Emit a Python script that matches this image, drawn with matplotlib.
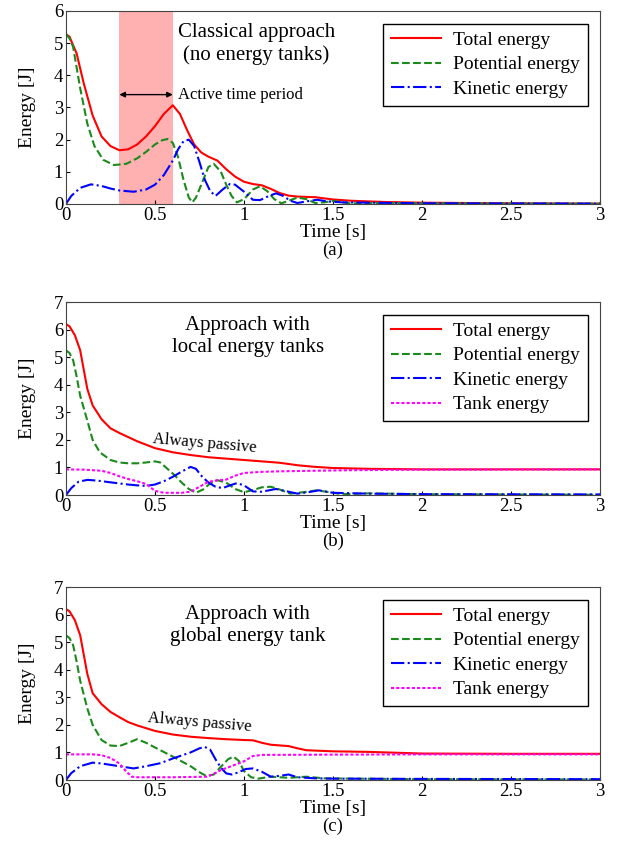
import numpy as np
import matplotlib
matplotlib.use('Agg')
import matplotlib.pyplot as plt

plt.rcParams['font.family'] = ['Liberation Serif', 'DejaVu Serif']
plt.rcParams['font.size'] = 13

# ---- panel (a): classical approach ----
t_a_tot = [0, 0.02, 0.06, 0.1, 0.15, 0.2, 0.25, 0.3, 0.35, 0.4, 0.45, 0.5, 0.55, 0.6, 0.64, 0.68,
           0.72, 0.76, 0.8, 0.85, 0.9, 0.95, 1.0, 1.05, 1.1, 1.15, 1.2, 1.25, 1.3, 1.4, 1.5, 1.6,
           1.8, 2.0, 2.5, 3.0]
e_a_tot = [5.28, 5.2, 4.68, 3.75, 2.75, 2.1, 1.8, 1.67, 1.7, 1.85, 2.1, 2.42, 2.8, 3.07, 2.8, 2.3,
           1.85, 1.6, 1.47, 1.35, 1.08, 0.85, 0.69, 0.62, 0.58, 0.47, 0.34, 0.26, 0.23, 0.21, 0.14,
           0.1, 0.06, 0.04, 0.02, 0.01]
t_a_pot = [0, 0.02, 0.04, 0.08, 0.12, 0.16, 0.21, 0.27, 0.34, 0.4, 0.45, 0.5, 0.54, 0.57, 0.6,
           0.63, 0.66, 0.69, 0.71, 0.73, 0.76, 0.8, 0.83, 0.87, 0.9, 0.93, 0.96, 1.0, 1.05, 1.09,
           1.13, 1.17, 1.21, 1.25, 1.3, 1.35, 1.4, 1.45, 1.5, 1.55, 1.6, 1.8, 2.0, 3.0]
e_a_pot = [5.28, 5.15, 4.89, 3.6, 2.5, 1.8, 1.37, 1.21, 1.25, 1.42, 1.62, 1.85, 1.98, 2.02, 1.9,
           1.45, 0.75, 0.2, 0.05, 0.2, 0.6, 1.15, 1.25, 1.0, 0.6, 0.25, 0.05, 0.15, 0.45, 0.55,
           0.4, 0.15, 0.02, 0.1, 0.2, 0.15, 0.03, 0.05, 0.1, 0.05, 0.02, 0.03, 0.02, 0.01]
t_a_kin = [0, 0.03, 0.08, 0.14, 0.2, 0.25, 0.3, 0.38, 0.45, 0.5, 0.55, 0.6, 0.63, 0.66, 0.69,
           0.72, 0.75, 0.78, 0.81, 0.84, 0.88, 0.92, 0.95, 1.0, 1.05, 1.09, 1.14, 1.18, 1.22, 1.26,
           1.3, 1.35, 1.41, 1.47, 1.55, 1.7, 2.0, 3.0]
e_a_kin = [0, 0.25, 0.5, 0.61, 0.56, 0.48, 0.42, 0.38, 0.45, 0.6, 0.9, 1.35, 1.7, 1.95, 2.0,
           1.8, 1.3, 0.75, 0.4, 0.25, 0.45, 0.62, 0.6, 0.38, 0.13, 0.12, 0.25, 0.33, 0.25, 0.1,
           0.03, 0.08, 0.13, 0.08, 0.05, 0.04, 0.02, 0.01]

# ---- panel (b): local energy tanks ----
t_b_tot = [0, 0.02, 0.05, 0.08, 0.1, 0.12, 0.15, 0.2, 0.25, 0.3, 0.35, 0.4, 0.5, 0.6, 0.7, 0.8,
           0.9, 1.0, 1.1, 1.2, 1.3, 1.4, 1.5, 1.7, 2.0, 2.5, 3.0]
e_b_tot = [6.2, 6.12, 5.8, 5.25, 4.55, 3.85, 3.25, 2.75, 2.42, 2.25, 2.1, 1.95, 1.7, 1.55, 1.45,
           1.37, 1.32, 1.27, 1.22, 1.17, 1.08, 1.02, 0.98, 0.95, 0.93, 0.93, 0.93]
t_b_pot = [0, 0.02, 0.04, 0.06, 0.08, 0.12, 0.15, 0.19, 0.25, 0.3, 0.35, 0.4, 0.45, 0.5, 0.53,
           0.57, 0.61, 0.65, 0.69, 0.73, 0.77, 0.81, 0.85, 0.9, 0.95, 1.0, 1.05, 1.1, 1.15, 1.2,
           1.26, 1.33, 1.41, 1.48, 1.55, 1.7, 2.0, 2.5, 3.0]
e_b_pot = [5.25, 5.15, 4.9, 4.3, 3.6, 2.7, 2.0, 1.55, 1.27, 1.18, 1.15, 1.15, 1.18, 1.22, 1.18,
           0.95, 0.72, 0.45, 0.22, 0.08, 0.2, 0.42, 0.54, 0.45, 0.22, 0.1, 0.18, 0.28, 0.3, 0.2,
           0.05, 0.1, 0.17, 0.1, 0.03, 0.06, 0.03, 0.02, 0.01]
t_b_kin = [0, 0.03, 0.07, 0.12, 0.18, 0.25, 0.3, 0.35, 0.4, 0.45, 0.5, 0.55, 0.6, 0.65, 0.7,
           0.73, 0.76, 0.8, 0.84, 0.88, 0.92, 0.96, 1.0, 1.05, 1.1, 1.18, 1.25, 1.3, 1.36, 1.42,
           1.5, 1.7, 2.0, 3.0]
e_b_kin = [0, 0.25, 0.48, 0.55, 0.52, 0.46, 0.42, 0.38, 0.35, 0.33, 0.38, 0.5, 0.66, 0.85, 1.02,
           0.95, 0.7, 0.45, 0.3, 0.25, 0.35, 0.43, 0.35, 0.13, 0.12, 0.22, 0.12, 0.05, 0.1, 0.17,
           0.08, 0.05, 0.03, 0.02]
t_b_tank = [0, 0.1, 0.2, 0.25, 0.3, 0.35, 0.4, 0.45, 0.5, 0.55, 0.6, 0.65, 0.7, 0.75, 0.8, 0.85,
            0.9, 0.95, 1.0, 1.1, 1.2, 1.4, 1.6, 2.0, 3.0]
e_b_tank = [0.93, 0.92, 0.88, 0.8, 0.68, 0.58, 0.5, 0.4, 0.15, 0.08, 0.08, 0.08, 0.12, 0.3, 0.48,
            0.53, 0.56, 0.7, 0.8, 0.84, 0.86, 0.88, 0.9, 0.92, 0.93]

# ---- panel (c): global energy tank ----
t_c_tot = [0, 0.02, 0.05, 0.08, 0.1, 0.12, 0.15, 0.2, 0.25, 0.3, 0.35, 0.4, 0.5, 0.6, 0.7, 0.8,
           0.9, 1.0, 1.05, 1.1, 1.15, 1.25, 1.3, 1.35, 1.5, 1.7, 2.0, 2.5, 3.0]
e_c_tot = [6.2, 6.12, 5.8, 5.25, 4.55, 3.85, 3.15, 2.75, 2.47, 2.28, 2.1, 1.98, 1.78, 1.65, 1.57,
           1.52, 1.48, 1.45, 1.44, 1.35, 1.28, 1.23, 1.15, 1.08, 1.04, 1.02, 0.96, 0.95, 0.95]
t_c_pot = [0, 0.02, 0.04, 0.06, 0.08, 0.12, 0.15, 0.2, 0.25, 0.3, 0.35, 0.4, 0.45, 0.5, 0.6,
           0.7, 0.75, 0.79, 0.83, 0.87, 0.91, 0.94, 0.97, 1.0, 1.04, 1.08, 1.15, 1.25, 1.35, 1.45,
           1.6, 2.0, 3.0]
e_c_pot = [5.25, 5.15, 4.9, 4.3, 3.6, 2.6, 2.0, 1.45, 1.25, 1.23, 1.35, 1.48, 1.35, 1.18, 0.85,
           0.5, 0.28, 0.14, 0.2, 0.48, 0.75, 0.85, 0.7, 0.32, 0.1, 0.05, 0.12, 0.08, 0.12, 0.06,
           0.05, 0.03, 0.02]
t_c_kin = [0, 0.03, 0.08, 0.15, 0.2, 0.3, 0.38, 0.45, 0.53, 0.6, 0.7, 0.75, 0.78, 0.81, 0.84,
           0.87, 0.9, 0.93, 0.97, 1.01, 1.05, 1.1, 1.15, 1.2, 1.25, 1.3, 1.4, 1.5, 2.0, 3.0]
e_c_kin = [0, 0.25, 0.5, 0.63, 0.6, 0.5, 0.42, 0.5, 0.61, 0.78, 1.0, 1.15, 1.2, 1.1, 0.75,
           0.45, 0.24, 0.2, 0.28, 0.4, 0.42, 0.3, 0.12, 0.15, 0.2, 0.1, 0.06, 0.05, 0.04, 0.03]
t_c_tank = [0, 0.15, 0.2, 0.25, 0.3, 0.34, 0.37, 0.4, 0.6, 0.79, 0.83, 0.87, 0.92, 0.96, 1.0,
            1.05, 1.1, 1.5, 2.0, 3.0]
e_c_tank = [0.93, 0.93, 0.9, 0.8, 0.6, 0.3, 0.12, 0.1, 0.1, 0.12, 0.22, 0.36, 0.48, 0.58, 0.68,
            0.87, 0.91, 0.92, 0.93, 0.93]

xticks = [0, 0.5, 1, 1.5, 2, 2.5, 3]
xticklabels = ['0', '0.5', '1', '1.5', '2', '2.5', '3']


def style(ax, ymax):
    ax.set_xlim(0, 3)
    ax.set_ylim(0, ymax)
    ax.set_xticks(xticks)
    ax.set_xticklabels(xticklabels)
    ax.set_yticks(range(ymax + 1))
    ax.tick_params(direction='in', length=3, labelsize=13.5, pad=2)
    ax.set_xlabel('Time [s]', fontsize=14, labelpad=0)
    ax.set_ylabel('Energy [J]', fontsize=14, labelpad=13)
    for s in ax.spines.values():
        s.set_color('#444444')
    ax.legend(loc='upper right', fancybox=False, edgecolor='black', framealpha=1,
              fontsize=14, handlelength=2.6, labelspacing=0.35, borderaxespad=0.65,
              borderpad=0.4, handletextpad=0.6)


fig = plt.figure(figsize=(6.22, 8.52), dpi=100)
ax_a = fig.add_axes([0.106, 0.7606, 0.859, 0.2265])
ax_b = fig.add_axes([0.106, 0.419, 0.859, 0.2265])
ax_c = fig.add_axes([0.106, 0.0845, 0.859, 0.2265])

red = '#ff0000'
green = '#1a8a1a'
blue = '#0000ff'
mag = '#ff00ff'
lw = 1.5

# (a)
ax_a.axvspan(0.3, 0.6, color='#ffb0b0', lw=0)
ax_a.plot(t_a_tot, e_a_tot, color=red, lw=lw, label='Total energy')
ax_a.plot(t_a_pot, e_a_pot, color=green, lw=lw, ls='--', label='Potential energy')
ax_a.plot(t_a_kin, e_a_kin, color=blue, lw=lw, ls='-.', label='Kinetic energy')
style(ax_a, 6)
ax_a.annotate('', xy=(0.3, 3.4), xytext=(0.6, 3.4),
              arrowprops=dict(arrowstyle='<|-|>', color='black', lw=1, mutation_scale=8,
                              shrinkA=0, shrinkB=0))
ax_a.text(0.63, 3.4, 'Active time period', fontsize=12, va='center')
ax_a.text(1.07, 4.98, 'Classical approach\n(no energy tanks)', fontsize=15, ha='center',
          va='center', linespacing=1.2)

# (b)
ax_b.plot(t_b_tot, e_b_tot, color=red, lw=lw, label='Total energy')
ax_b.plot(t_b_pot, e_b_pot, color=green, lw=lw, ls='--', label='Potential energy')
ax_b.plot(t_b_kin, e_b_kin, color=blue, lw=lw, ls='-.', label='Kinetic energy')
ax_b.plot(t_b_tank, e_b_tank, color=mag, lw=lw, dashes=(1.5, 1), label='Tank energy')
style(ax_b, 7)
ax_b.text(0.78, 1.85, 'Always passive', fontsize=12, ha='center', va='center', rotation=-5)
ax_b.text(1.02, 5.75, 'Approach with\nlocal energy tanks', fontsize=15, ha='center',
          va='center', linespacing=1.2)

# (c)
ax_c.plot(t_c_tot, e_c_tot, color=red, lw=lw, label='Total energy')
ax_c.plot(t_c_pot, e_c_pot, color=green, lw=lw, ls='--', label='Potential energy')
ax_c.plot(t_c_kin, e_c_kin, color=blue, lw=lw, ls='-.', label='Kinetic energy')
ax_c.plot(t_c_tank, e_c_tank, color=mag, lw=lw, dashes=(1.5, 1), label='Tank energy')
style(ax_c, 7)
ax_c.text(0.75, 2.1, 'Always passive', fontsize=12, ha='center', va='center', rotation=-5)
ax_c.text(1.02, 5.6, 'Approach with\nglobal energy tank', fontsize=15, ha='center',
          va='center', linespacing=1.2)

for lab, y in [('(a)', 250), ('(b)', 541), ('(c)', 826)]:
    fig.text(0.535, 1 - y / 852, lab, ha='center', va='center', fontsize=13.5)

fig.savefig('out.png', dpi=100)
